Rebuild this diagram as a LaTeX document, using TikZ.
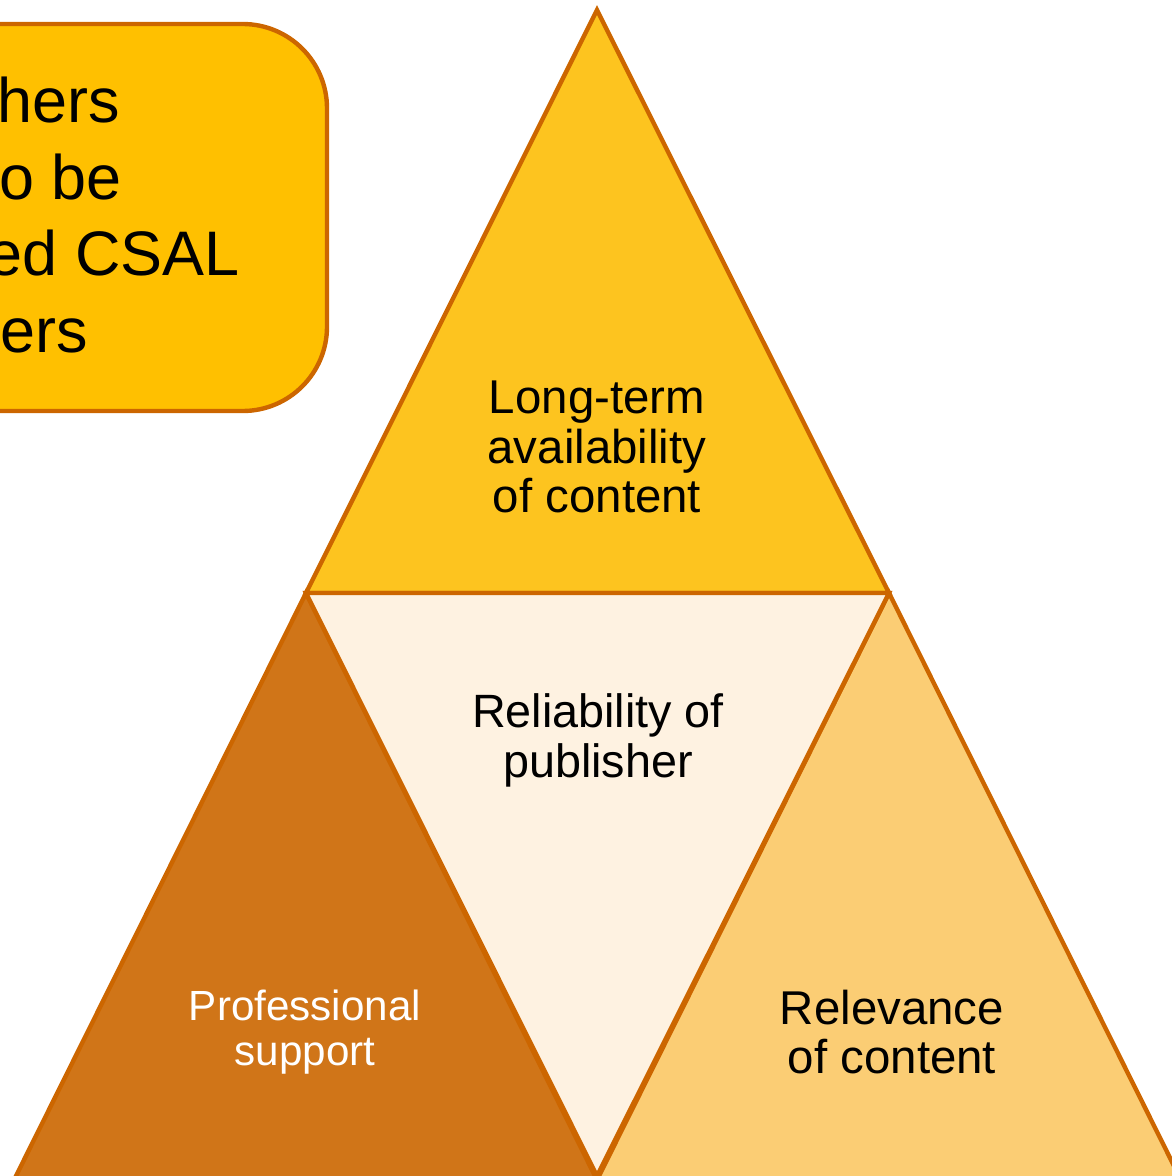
\documentclass[tikz,border=0pt]{standalone}
\usepackage{fontspec}
\setmainfont{Liberation Sans}
\usepackage{tikz}
\usetikzlibrary{calc}

\definecolor{edge}{HTML}{CC6600}
\definecolor{boxfill}{HTML}{FFC000}
\definecolor{topfill}{HTML}{FDC41F}
\definecolor{leftfill}{HTML}{D07518}
\definecolor{midfill}{HTML}{FEF2E1}
\definecolor{rightfill}{HTML}{FBCD74}

\begin{document}
\begin{tikzpicture}[x=0.02cm, y=-0.02cm,
  tri/.style={draw=edge, line width=2.5pt},
  label/.style={align=center, inner sep=0pt},
  cutline/.style={anchor=base east, inner sep=0pt, font=\fontsize{35.8}{43.4}\selectfont}]
\useasboundingbox (0,0) rectangle (1172,1176);

% box at the top left, cut by the page
\path [fill=boxfill, draw=edge, line width=2.5pt, rounded corners=48pt] (-400,24) rectangle (327,411);
\node [cutline] (cuta) at (120,122) {hers};
\node [cutline] (cutb) at (122,199) {o be};
\node [cutline] (cutc) at (240,275) {ed CSAL};
\node [cutline] (cutd) at (88,352) {ers};

% the four triangles
\draw [tri, fill=topfill] (597,10) -- (306,593) -- (889,593) -- cycle;
\draw [tri, fill=leftfill] (306,593) -- (14,1180) -- (597,1180) -- cycle;
\draw [tri, fill=rightfill] (889,593) -- (597,1180) -- (1181,1180) -- cycle;
\draw [tri, fill=midfill] (306,593) -- (889,593) -- (597,1176) -- cycle;

\node [label, font=\fontsize{27}{28.4}\selectfont] (avail) at (597,447) {Long-term\\availability\\of content};
\node [label, font=\fontsize{26.6}{28.4}\selectfont] (publ) at (598,740) {Reliability of\\publisher};
\node [label, white, font=\fontsize{24}{25.5}\selectfont] (supp) at (305,1032) {Professional\\support};
\node [label, font=\fontsize{27}{28.4}\selectfont] (relev) at (892,1032) {Relevance\\of content};
\end{tikzpicture}
\end{document}
